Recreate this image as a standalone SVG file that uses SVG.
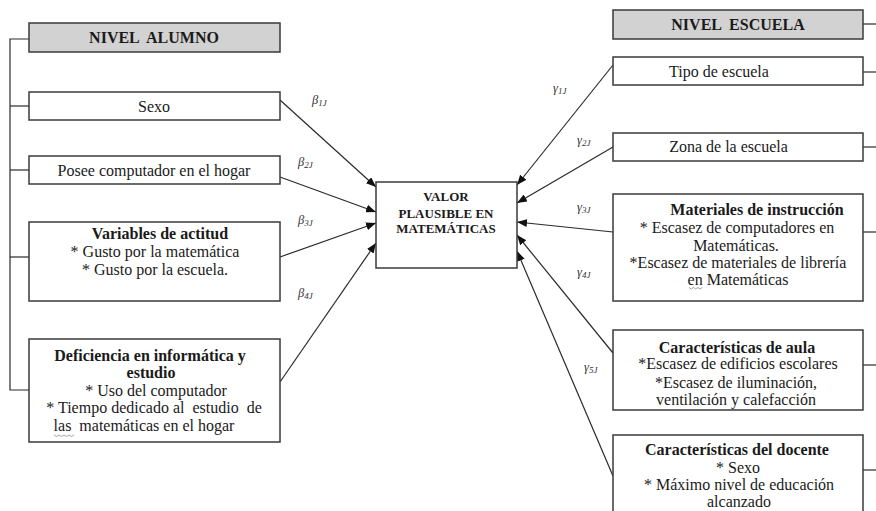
<svg xmlns="http://www.w3.org/2000/svg" width="876" height="511" viewBox="0 0 876 511">
<defs>
<marker id="ah" markerWidth="10" markerHeight="8" refX="10" refY="4" orient="auto" markerUnits="userSpaceOnUse">
<path d="M0,0 L10,4 L0,8 Z" fill="#111"/>
</marker>
<style>
.box{fill:#fff;stroke:#3a3a3a;stroke-width:1.5}
.hdr{fill:#d2d2d2;stroke:#3a3a3a;stroke-width:1.5}
text{font-family:'Liberation Serif','Times New Roman',serif}
.t{font-size:16px;fill:#1a1a1a;text-anchor:middle}
.b{font-weight:bold}
.pre{white-space:pre}
.h{font-size:16px;font-weight:bold;fill:#1a1a1a;text-anchor:middle;word-spacing:4px}
.c{font-size:13px;font-weight:bold;fill:#1a1a1a;text-anchor:middle}
.lbl{font-size:12.5px;font-style:italic;fill:#333}
.sub{font-size:9px}
.ln{stroke:#2a2a2a;stroke-width:1.2;fill:none}
.ar{stroke:#2a2a2a;stroke-width:1.2;fill:none;marker-end:url(#ah)}
.sq{stroke:#8a8a8a;stroke-width:0.8;fill:none}
</style>
</defs>

<g id="connectors">
<path class="ln" d="M29,39 H10 V390 H29"/>
<path class="ln" d="M10,106 H29"/>
<path class="ln" d="M10,170 H29"/>
<path class="ln" d="M10,257 H29"/>
<path class="ln" d="M863,24 H876"/>
<path class="ln" d="M863,72 H876"/>
<path class="ln" d="M863,147 H876"/>
<path class="ln" d="M863,232 H876"/>
<path class="ln" d="M863,365 H876"/>
<path class="ln" d="M863,470 H876"/>
<line class="ar" x1="280" y1="100" x2="376" y2="187"/>
<line class="ar" x1="280" y1="177" x2="376" y2="212"/>
<line class="ar" x1="280" y1="257" x2="376" y2="223"/>
<line class="ar" x1="280" y1="382" x2="376" y2="243"/>
<line class="ar" x1="613" y1="65" x2="517" y2="185"/>
<line class="ar" x1="613" y1="147" x2="517" y2="203"/>
<line class="ar" x1="613" y1="232" x2="517" y2="222"/>
<line class="ar" x1="613" y1="353" x2="517" y2="235"/>
<line class="ar" x1="613" y1="476" x2="517" y2="251"/>
<text class="lbl" x="312" y="104">β<tspan class="sub" dy="2">1J</tspan></text>
<text class="lbl" x="298" y="166">β<tspan class="sub" dy="2">2J</tspan></text>
<text class="lbl" x="298" y="224">β<tspan class="sub" dy="2">3J</tspan></text>
<text class="lbl" x="298" y="297">β<tspan class="sub" dy="2">4J</tspan></text>
<text class="lbl" x="553" y="92">γ<tspan class="sub" dy="2">1J</tspan></text>
<text class="lbl" x="577" y="144">γ<tspan class="sub" dy="2">2J</tspan></text>
<text class="lbl" x="577" y="211">γ<tspan class="sub" dy="2">3J</tspan></text>
<text class="lbl" x="577" y="276">γ<tspan class="sub" dy="2">4J</tspan></text>
<text class="lbl" x="584" y="371">γ<tspan class="sub" dy="2">5J</tspan></text>
</g>

<g id="nivel-alumno">
<rect class="hdr" x="29" y="23" width="251" height="29"/>
<text class="h" x="154" y="42.5">NIVEL ALUMNO</text>
</g>

<g id="sexo">
<rect class="box" x="29" y="92" width="251" height="28"/>
<text class="t" x="154" y="111.5">Sexo</text>
</g>

<g id="computador">
<rect class="box" x="29" y="156" width="251" height="28"/>
<text class="t" x="154" y="175.5">Posee computador en el hogar</text>
</g>

<g id="actitud">
<rect class="box" x="29" y="222" width="251" height="79"/>
<text class="t b" x="160" y="238.5">Variables de actitud</text>
<text class="t" x="155" y="257">* Gusto por la matemática</text>
<text class="t" x="155" y="275">* Gusto por la escuela.</text>
</g>

<g id="deficiencia">
<rect class="box" x="29" y="339" width="251" height="103"/>
<text class="t b" x="150" y="360.5">Deficiencia en informática y</text>
<text class="t b" x="151" y="377.5">estudio</text>
<text class="t" x="156" y="395.5">* Uso del computador</text>
<text class="t pre" x="154" y="412.5">* Tiempo dedicado al  estudio  de</text>
<text class="t pre" x="144" y="430.5">las  matemáticas en el hogar</text>
<path class="sq" d="M54,435 l2.5,1.5 l2.5,-1.5 l2.5,1.5 l2.5,-1.5 l2.5,1.5 l2.5,-1.5 l2.5,1.5 l2.5,-1.5"/>
</g>

<g id="valor">
<rect class="box" x="376" y="182" width="141" height="86"/>
<text class="c" x="446" y="201">VALOR</text>
<text class="c" x="446" y="218">PLAUSIBLE EN</text>
<text class="c" x="446" y="233">MATEMÁTICAS</text>
</g>

<g id="nivel-escuela">
<rect class="hdr" x="613" y="10" width="250" height="29"/>
<text class="h" x="738" y="29.5">NIVEL ESCUELA</text>
</g>

<g id="tipo">
<rect class="box" x="613" y="57" width="250" height="28"/>
<text class="t" x="719" y="76.5">Tipo de escuela</text>
</g>

<g id="zona">
<rect class="box" x="613" y="133" width="250" height="28"/>
<text class="t" x="728.5" y="151.5">Zona de la escuela</text>
</g>

<g id="materiales">
<rect class="box" x="613" y="194" width="250" height="107"/>
<text class="t b" x="757" y="214.5">Materiales de instrucción</text>
<text class="t" x="737" y="232.5">* Escasez de computadores en</text>
<text class="t" x="736" y="250.5">Matemáticas.</text>
<text class="t" x="738" y="267.5">*Escasez de materiales de librería</text>
<text class="t" x="738" y="284.5">en Matemáticas</text>
<path class="sq" d="M689,287.5 l2.2,1.5 l2.2,-1.5 l2.2,1.5 l2.2,-1.5 l2.2,1.5 l2.2,-1.5"/>
</g>

<g id="aula">
<rect class="box" x="613" y="330" width="250" height="80"/>
<text class="t b" x="737" y="352.5">Características de aula</text>
<text class="t" x="738" y="369">*Escasez de edificios escolares</text>
<text class="t" x="736" y="387.5">*Escasez de iluminación,</text>
<text class="t" x="736" y="404.5">ventilación y calefacción</text>
</g>

<g id="docente">
<rect class="box" x="613" y="435" width="250" height="80"/>
<text class="t b" x="737" y="454.5">Características del docente</text>
<text class="t" x="738" y="472.5">* Sexo</text>
<text class="t" x="739" y="489.5">* Máximo nivel de educación</text>
<text class="t" x="739" y="506.5">alcanzado</text>
</g>
</svg>
